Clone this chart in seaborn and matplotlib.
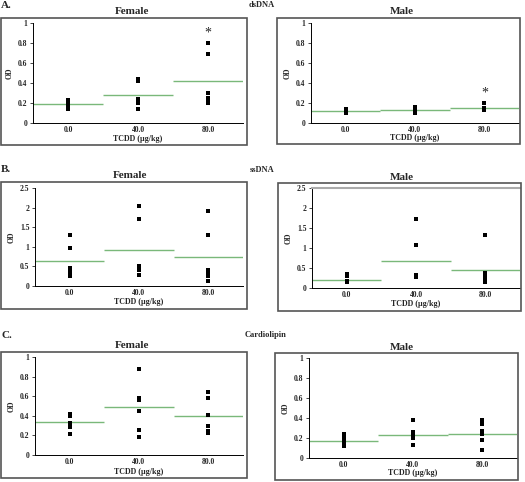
import pandas as pd
import matplotlib.pyplot as plt
import seaborn as sns
from matplotlib.patches import Rectangle

sns.set_theme(style="white")
plt.rcParams['font.family'] = ['Liberation Serif', 'DejaVu Serif']
plt.rcParams['font.weight'] = 'bold'

# dose groups
doses = ['0.0', '40.0', '80.0']

# values (OD per animal)
dsdna_female = [[0.14, 0.18, 0.20, 0.22, 0.23],
                [0.14, 0.20, 0.22, 0.24, 0.42, 0.44],
                [0.20, 0.23, 0.25, 0.30, 0.69, 0.80]]
dsdna_female_mean = [0.19, 0.28, 0.42]
dsdna_male = [[0.10, 0.12, 0.13, 0.14],
              [0.10, 0.12, 0.14, 0.16],
              [0.13, 0.14, 0.15, 0.20]]
dsdna_male_mean = [0.12, 0.13, 0.15]

ssdna_female = [[0.25, 0.35, 0.40, 0.45, 0.98, 1.31],
                [0.29, 0.40, 0.44, 0.50, 1.70, 2.04],
                [0.14, 0.25, 0.35, 0.42, 1.31, 1.91]]
ssdna_female_mean = [0.63, 0.92, 0.73]
ssdna_male = [[0.14, 0.17, 0.29, 0.35],
              [0.28, 0.33, 1.08, 1.73],
              [0.16, 0.21, 0.28, 0.37, 1.33]]
ssdna_male_mean = [0.21, 0.68, 0.46]

cardio_female = [[0.21, 0.29, 0.33, 0.40, 0.42],
                 [0.18, 0.26, 0.45, 0.56, 0.58, 0.88],
                 [0.22, 0.24, 0.30, 0.41, 0.58, 0.64]]
cardio_female_mean = [0.34, 0.49, 0.40]
cardio_male = [[0.12, 0.145, 0.17, 0.21, 0.245],
               [0.13, 0.205, 0.23, 0.26, 0.38],
               [0.08, 0.185, 0.245, 0.27, 0.34, 0.385]]
cardio_male_mean = [0.17, 0.235, 0.245]

W, H = 525, 482
fig = plt.figure(figsize=(W / 100, H / 100), dpi=100)


def fx(px):
    return px / W


def fy(py):
    return 1 - py / H


def panel(values, means, title, axes_px, frame_px, title_px, xlab_y, ymax, yticks,
          star=None, top_line=False):
    x0, y0, x1, y1 = axes_px
    ax = fig.add_axes([fx(x0), fy(y1), fx(x1 - x0), (y1 - y0) / H])
    df = pd.DataFrame({'dose': [d for d, v in zip(doses, values) for _ in v],
                       'od': [x for v in values for x in v]})
    sns.stripplot(data=df, x='dose', y='od', order=doses, jitter=False,
                  marker='s', size=2.6, color='black', linewidth=0, ax=ax)
    for i, m in enumerate(means):
        ax.hlines(m, i - 0.5, i + 0.5, color='#7ab87a', linewidth=1)
    ax.set_xlim(-0.5, 2.5)
    ax.set_ylim(0, ymax)
    ax.set_yticks(yticks)
    ax.set_yticklabels([('%g' % t) for t in yticks], fontsize=5.5, fontweight='bold')
    ax.set_xticks(range(3))
    ax.set_xticklabels(doses, fontsize=5.5, fontweight='bold')
    ax.set_xticks([0.5, 1.5], minor=True)
    ax.tick_params(axis='x', which='major', length=0, pad=2.5)
    ax.tick_params(axis='x', which='minor', length=3, width=0.6, color='black')
    ax.tick_params(axis='y', length=2.5, width=0.6, pad=1.5, left=True)
    ax.set_xlabel('')
    ax.set_ylabel('OD', fontsize=5.5, fontweight='bold', labelpad=3)
    for s in ['top', 'right']:
        ax.spines[s].set_visible(False)
    for s in ['left', 'bottom']:
        ax.spines[s].set_color('black')
        ax.spines[s].set_linewidth(0.7)
    if top_line:
        ax.spines['top'].set_visible(True)
        ax.spines['top'].set_color('#aaaaaa')
        ax.spines['top'].set_linewidth(1.5)
    if star is not None:
        ax.text(2, star, '*', ha='center', va='center', fontsize=10, fontweight='normal')
    fxa, fya, fxb, fyb = frame_px
    fig.add_artist(Rectangle((fx(fxa), fy(fyb)), fx(fxb - fxa), (fyb - fya) / H,
                             transform=fig.transFigure, fill=False,
                             edgecolor='#555555', linewidth=1.2))
    fig.text(fx(title_px[0]), fy(title_px[1]), title, ha='center', va='center',
             fontsize=8, fontweight='bold')
    fig.text(fx((x0 + x1) / 2), fy(xlab_y), 'TCDD (\u00b5g/kg)', ha='center',
             va='center', fontsize=5.8, fontweight='bold')


t1 = [0, 0.2, 0.4, 0.6, 0.8, 1]
t25 = [0, 0.5, 1, 1.5, 2, 2.5]

panel(dsdna_female, dsdna_female_mean, 'Female', (33, 23, 243, 123), (1, 18, 247, 145),
      (132, 12), 139, 1, t1, star=0.9)
panel(dsdna_male, dsdna_male_mean, 'Male', (311, 23, 519, 123), (277, 18, 520, 144),
      (402, 12), 138, 1, t1, star=0.3)
panel(ssdna_female, ssdna_female_mean, 'Female', (35, 188, 243, 286), (1, 182, 247, 309),
      (130, 175), 302, 2.5, t25)
panel(ssdna_male, ssdna_male_mean, 'Male', (312, 188, 520, 288), (278, 183, 521, 311),
      (402, 178), 304, 2.5, t25, top_line=True)
panel(cardio_female, cardio_female_mean, 'Female', (35, 357, 243, 455), (1, 352, 247, 478),
      (132, 345), 472, 1, t1)
panel(cardio_male, cardio_male_mean, 'Male', (309, 358, 517, 458), (275, 353, 518, 480),
      (402, 348), 473, 1, t1)

# section labels
fig.text(fx(1), fy(6), 'A.', ha='left', va='center', fontsize=8, fontweight='bold')
fig.text(fx(262), fy(5), 'dsDNA', ha='center', va='center', fontsize=6, fontweight='bold')
fig.text(fx(1), fy(169), 'B.', ha='left', va='center', fontsize=8, fontweight='bold')
fig.text(fx(262), fy(170), 'ssDNA', ha='center', va='center', fontsize=6, fontweight='bold')
fig.text(fx(1), fy(335), 'C.', ha='left', va='center', fontsize=8, fontweight='bold')
fig.text(fx(245), fy(335), 'Cardiolipin', ha='left', va='center', fontsize=6, fontweight='bold')

fig.savefig('out.png', dpi=100)
